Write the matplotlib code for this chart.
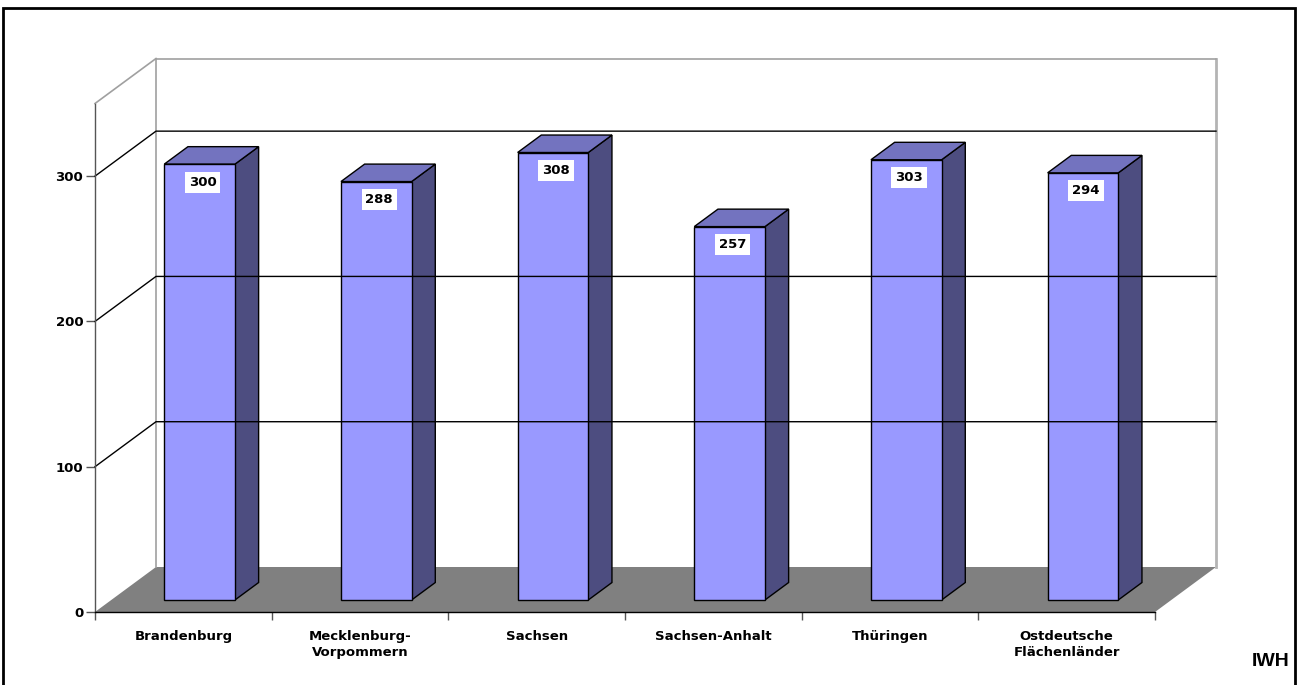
import matplotlib
matplotlib.use("Agg")
import matplotlib.pyplot as plt
from matplotlib.patches import Polygon, Rectangle

laender = ["Brandenburg", "Mecklenburg-\nVorpommern", "Sachsen", "Sachsen-Anhalt",
           "Thüringen", "Ostdeutsche\nFlächenländer"]
werte = [300, 288, 308, 257, 303, 294]
y_ticks = [0, 100, 200, 300]
y_max = 350

W, H = 1300, 685
fig = plt.figure(figsize=(W / 100, H / 100), dpi=100)
fig.patch.set_facecolor("white")

# front plane of the pseudo-3d box
ax = fig.add_axes([95 / W, (H - 612) / H, 1060 / W, 508.5 / H])
ax.set_xlim(0, len(werte))
ax.set_ylim(0, y_max)
ax.set_facecolor("none")

# depth offset (data units)
DX = 61 / (1060 / len(werte))
DY = 45 / (508.5 / y_max)
n = len(werte)

# back wall frame
grau = "#a0a0a0"
ax.plot([DX, DX], [DY, y_max + DY], color=grau, lw=1.2, clip_on=False)
ax.plot([n + DX, n + DX], [DY, y_max + DY], color="#b4b4b4", lw=2, clip_on=False)
ax.plot([DX, n + DX], [y_max + DY, y_max + DY], color=grau, lw=1.2, clip_on=False)
ax.plot([0, DX], [y_max, y_max + DY], color=grau, lw=1.2, clip_on=False)

# gridlines
for v in y_ticks[1:]:
    ax.plot([0, DX, n + DX], [v, v + DY, v + DY], color="black", lw=1, clip_on=False)

# floor
ax.add_patch(Polygon([(0, 0), (DX, DY), (n + DX, DY), (n, 0)], closed=True,
                     facecolor="#808080", edgecolor="none", clip_on=False))

# bars
f0, f1 = 0.267, 0.655
bw = 0.4
for i, h in enumerate(werte):
    x0 = i + 0.5 - bw / 2
    x1 = i + 0.5 + bw / 2
    ox0, oy0 = f0 * DX, f0 * DY
    ox1, oy1 = f1 * DX, f1 * DY
    vorne = [(x0 + ox0, oy0), (x1 + ox0, oy0), (x1 + ox0, h + oy0), (x0 + ox0, h + oy0)]
    oben = [(x0 + ox0, h + oy0), (x1 + ox0, h + oy0), (x1 + ox1, h + oy1), (x0 + ox1, h + oy1)]
    seite = [(x1 + ox0, oy0), (x1 + ox1, oy1), (x1 + ox1, h + oy1), (x1 + ox0, h + oy0)]
    ax.add_patch(Polygon(seite, closed=True, facecolor="#4d4d80", edgecolor="black", lw=1, clip_on=False))
    ax.add_patch(Polygon(oben, closed=True, facecolor="#7373bf", edgecolor="black", lw=1, clip_on=False))
    ax.add_patch(Polygon(vorne, closed=True, facecolor="#9999ff", edgecolor="black", lw=1, clip_on=False))
    ax.annotate(str(h), xy=(i + 0.5 + ox0, h + oy0), xytext=(3, -18), textcoords="offset pixels",
                ha="center", va="center", fontsize=9.5, fontweight="bold", color="black",
                bbox=dict(boxstyle="square,pad=0.3", facecolor="white", edgecolor="none"))

# axes
for s in ["top", "right"]:
    ax.spines[s].set_visible(False)
ax.spines["left"].set_color("#555555")
ax.spines["bottom"].set_color("black")
ax.spines["left"].set_linewidth(1)
ax.spines["bottom"].set_linewidth(1)

ax.set_yticks(y_ticks)
ax.set_yticklabels([str(v) for v in y_ticks], fontsize=9.5, fontweight="bold")
ax.tick_params(axis="y", length=6.5, width=1, color="#555555", pad=2)

ax.set_xticks([i + 0.5 for i in range(n)])
ax.set_xticklabels(laender, fontsize=9.5, fontweight="bold", linespacing=1.25)
ax.set_xticks(range(n + 1), minor=True)
ax.tick_params(axis="x", which="major", length=0, pad=13)
ax.tick_params(axis="x", which="minor", length=6, width=1, color="#555555")

fig.text(1271 / W, 1 - 662 / H, "IWH", ha="center", va="center", fontsize=14,
         fontweight="bold", family="Liberation Sans")

# outer frame
fig.patches.append(Rectangle((3 / W, -0.02), 1292 / W, 1.02 - 8 / H, transform=fig.transFigure,
                             fill=False, edgecolor="black", lw=2, figure=fig))

fig.savefig("out.png", dpi=100)
